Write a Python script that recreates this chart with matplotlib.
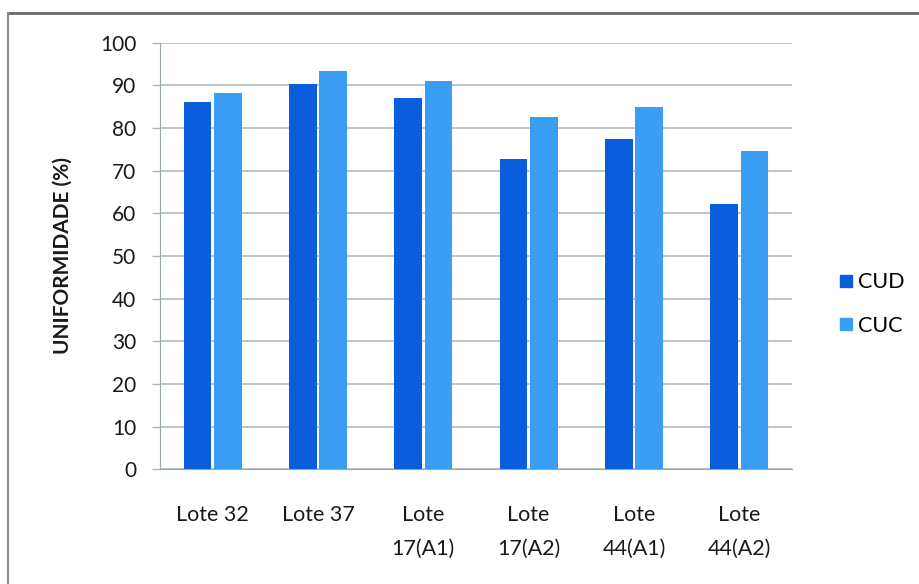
import matplotlib
matplotlib.use("Agg")
import matplotlib.pyplot as plt
import numpy as np
from matplotlib.lines import Line2D

# Data
categories = ["Lote 32", "Lote 37", "Lote\n17(A1)", "Lote\n17(A2)", "Lote\n44(A1)", "Lote\n44(A2)"]
cud = [86.1, 90.4, 87.0, 72.7, 77.4, 62.1]
cuc = [88.3, 93.3, 91.1, 82.7, 85.0, 74.7]
series_names = ["CUD", "CUC"]
yticks = [0, 10, 20, 30, 40, 50, 60, 70, 80, 90, 100]

plt.rcParams["font.family"] = ["Lato", "DejaVu Sans"]

col_cud = "#0A5EDE"
col_cuc = "#3A9FF4"
grid_col = "#A9B8B4"

fig = plt.figure(figsize=(9.19, 5.84), dpi=100)
ax = fig.add_axes([160 / 919, 1 - 469.3 / 584, 632 / 919, (469.3 - 42.7) / 584])

x = np.arange(len(categories))
w = 0.262
off = 0.145
ax.bar(x - off, cud, width=w, color=col_cud, zorder=3, label=series_names[0])
ax.bar(x + off, cuc, width=w, color=col_cuc, zorder=3, label=series_names[1])

ax.set_xlim(-0.5, len(categories) - 0.5)
ax.set_ylim(0, 100)
ax.set_yticks(yticks)
ax.set_yticklabels([str(v) for v in yticks], fontsize=15, color="#1a1a1a")
ax.set_xticks(x)
ax.set_xticklabels(categories, fontsize=15.5, color="#1a1a1a", linespacing=1.85)
ax.tick_params(axis="x", length=0, pad=26)
ax.tick_params(axis="y", length=6, width=1, color=grid_col, pad=11)

ax.yaxis.grid(True, color=grid_col, linewidth=1.1, zorder=0)
ax.set_axisbelow(True)
for s in ["top", "right"]:
    ax.spines[s].set_visible(False)
ax.spines["left"].set_color("#9aa8a8")
ax.spines["bottom"].set_color("#9aa8a8")

ax.set_ylabel("UNIFORMIDADE (%)", fontsize=15, fontweight="bold", color="#1a1a1a")
ax.yaxis.set_label_coords((73 - 160) / 632, 0.5)

# Legend
leg = fig.legend(
    handles=[
        Line2D([], [], marker="s", linestyle="none", markersize=9, color=col_cud),
        Line2D([], [], marker="s", linestyle="none", markersize=9, color=col_cuc),
    ],
    labels=series_names,
    loc="center left",
    bbox_to_anchor=(816 / 919, 1 - 304 / 584),
    frameon=False,
    fontsize=15.5,
    handletextpad=0.05,
    labelspacing=1.1,
    handlelength=1.0,
)

# Outer chart frame
fig.add_artist(Line2D([8 / 919, 1.0], [1 - 12.5 / 584] * 2, color="#6f6a66", linewidth=2))
fig.add_artist(Line2D([8 / 919] * 2, [0.0, 1 - 12.5 / 584], color="#8a8a8a", linewidth=1.5))

fig.savefig("out.png", dpi=100)
